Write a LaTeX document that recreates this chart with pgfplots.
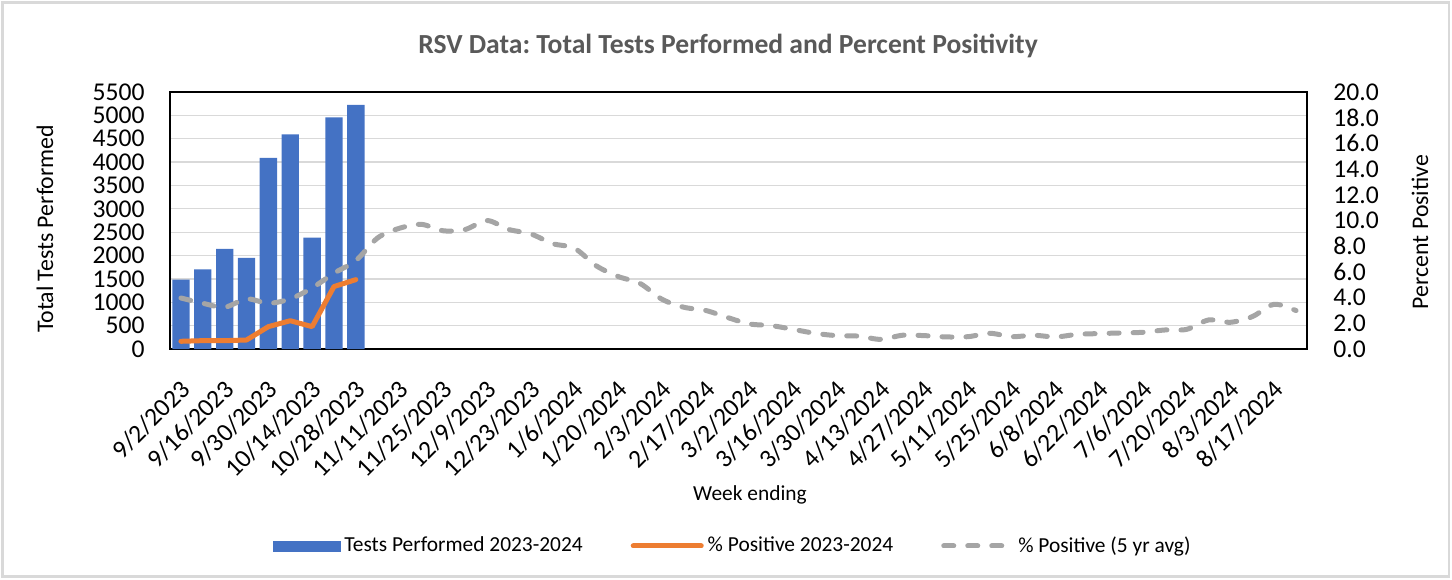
\documentclass[border=0pt]{standalone}
\usepackage{fontspec}
\setmainfont{Carlito}
\usepackage{pgfplots}
\usepackage{pgfplotstable}
\pgfplotsset{compat=1.18}
\definecolor{barblue}{HTML}{4472C4}
\definecolor{lineorange}{HTML}{ED7D31}
\definecolor{avggray}{HTML}{A5A5A5}
\definecolor{gridgray}{HTML}{D9D9D9}
\definecolor{titlegray}{HTML}{595959}

\pgfplotstableread{
x tests
0 1483
1 1705
2 2142
3 1948
4 4090
5 4592
6 2385
7 4957
8 5222
}\tests

\pgfplotstableread{
x pos
0 0.60
1 0.65
2 0.65
3 0.70
4 1.74
5 2.20
6 1.74
7 4.86
8 5.40
}\pos

\pgfplotstableread{
x avg
0 3.97
1 3.56
2 3.25
3 3.90
4 3.56
5 3.90
6 4.75
7 5.90
8 6.88
9 8.65
10 9.40
11 9.70
12 9.20
13 9.30
14 10.00
15 9.30
16 8.96
17 8.20
18 7.84
19 6.47
20 5.64
21 5.10
22 3.87
23 3.25
24 3.00
25 2.45
26 1.95
27 1.82
28 1.53
29 1.22
30 1.04
31 1.00
32 0.75
33 1.07
34 1.04
35 0.94
36 0.96
37 1.22
38 0.96
39 1.07
40 0.94
41 1.14
42 1.20
43 1.25
44 1.30
45 1.48
46 1.53
47 2.26
48 2.08
49 2.52
50 3.48
51 2.99
}\avg

\begin{document}
\frenchspacing
\begin{tikzpicture}
\path[use as bounding box] (0,0) rectangle (726pt,289.5pt);
\draw[gridgray, line width=1.2pt] (1.2pt,1.2pt) rectangle (724.6pt,288.3pt);
\begin{axis}[
  at={(85pt,115pt)}, anchor=south west,
  scale only axis, width=568.5pt, height=128.5pt,
  xmin=-0.5, xmax=51.5, ymin=0, ymax=5500,
  ytick={0,500,...,5500},
  xtick={0,2,...,50},
  xticklabels={9/2/2023,9/16/2023,9/30/2023,10/14/2023,10/28/2023,11/11/2023,11/25/2023,12/9/2023,12/23/2023,1/6/2024,1/20/2024,2/3/2024,2/17/2024,3/2/2024,3/16/2024,3/30/2024,4/13/2024,4/27/2024,5/11/2024,5/25/2024,6/8/2024,6/22/2024,7/6/2024,7/20/2024,8/3/2024,8/17/2024},
  major tick length=0pt,
  ymajorgrids, grid style={gridgray, line width=0.65pt},
  axis line style={black, line width=0.8pt},
  /pgf/number format/assume math mode=true,
  /pgf/number format/1000 sep={},
  tick label style={font=\fontsize{12.8}{14}\selectfont},
  yticklabel style={anchor=east, inner sep=0pt, xshift=-12.5pt},
  xticklabel style={xshift=-1pt, yshift=-14.5pt, rotate=45, anchor=north east, inner sep=0pt},
  ylabel={Total Tests Performed},
  ylabel style={at={(axis description cs:-0.1099,0.467)}, anchor=center, font=\fontsize{11.9}{13}\selectfont},
  xlabel={Week ending},
  xlabel style={at={(axis description cs:0.5101,-0.568)}, anchor=center, font=\fontsize{10.7}{12}\selectfont},
  title={RSV Data: Total Tests Performed and Percent Positivity},
  title style={at={(axis description cs:0.4908,1.1323)}, anchor=center, font=\bfseries\fontsize{13.8}{16}\selectfont, text=titlegray},
  ybar, bar width=8.65pt,
]
\addplot[fill=barblue, draw=none] table[x=x,y=tests]{\tests};
\end{axis}
\begin{axis}[
  at={(85pt,115pt)}, anchor=south west,
  scale only axis, width=568.5pt, height=128.5pt,
  xmin=-0.5, xmax=51.5, ymin=0, ymax=20,
  axis x line=none, axis y line*=right,
  ytick={0,2,...,20},
  major tick length=0pt,
  axis line style={black, line width=0.8pt, -},
  /pgf/number format/assume math mode=true,
  tick label style={font=\fontsize{12.8}{14}\selectfont},
  yticklabel style={anchor=west, inner sep=0pt, xshift=13pt, /pgf/number format/.cd, fixed, fixed zerofill, precision=1},
  ylabel={Percent Positive},
  ylabel style={at={(axis description cs:1.0994,0.455)}, anchor=center, font=\fontsize{11.9}{13}\selectfont},
  legend columns=3,
  legend style={at={(axis description cs:0.4956,-0.7665)}, anchor=center, draw=none, fill=none,
    font=\fontsize{10.7}{12}\selectfont,
    /tikz/every even column/.append style={column sep=22pt}},
  legend image code/.code={\draw[#1] (0pt,0pt) -- (34pt,0pt);},
]
\addlegendimage{legend image code/.code={\fill[barblue] (0pt,-2.5pt) rectangle (33.5pt,2.5pt);}}
\addlegendentry{Tests Performed 2023-2024}
\addplot[lineorange, line width=2.5pt, line join=round, line cap=round] table[x=x,y=pos]{\pos};
\addlegendentry{\% Positive 2023-2024}
\addplot[avggray, line width=2.5pt, dash pattern=on 5pt off 7pt, line cap=round, smooth] table[x=x,y=avg]{\avg};
\addlegendentry{\% Positive (5 yr avg)}
\end{axis}
\end{tikzpicture}
\end{document}
